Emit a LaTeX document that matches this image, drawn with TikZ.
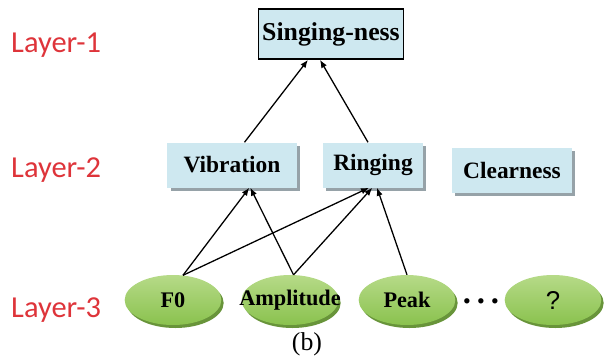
\documentclass[tikz,border=0pt]{standalone}
\usepackage{fontspec}
\setmainfont{Liberation Serif}
\newfontfamily\layerfont{Carlito}
\newfontfamily\qfont{Liberation Sans}
\usetikzlibrary{shapes,shadows,arrows.meta}

\definecolor{layerred}{RGB}{222,52,58}
\definecolor{boxblue}{RGB}{206,232,240}
\definecolor{boxshade}{RGB}{150,162,168}
\definecolor{leafgreen}{RGB}{138,194,78}
\definecolor{leaflight}{RGB}{182,218,136}
\definecolor{leafdark}{RGB}{104,148,58}

\tikzset{
  >={Latex[length=2.4mm,width=1.9mm]},
  layer/.style={text=layerred,font=\layerfont\fontsize{26}{28}\selectfont,anchor=base west,inner sep=0pt},
  topbox/.style={shape=rectangle,draw=black,line width=1.4pt,fill=boxblue,minimum width=4.2cm,minimum height=1.5cm,font=\bfseries\fontsize{22}{24}\selectfont},
  midbox/.style={shape=rectangle,fill=boxblue,minimum height=1.35cm,font=\bfseries\fontsize{20}{22}\selectfont,drop shadow={shadow xshift=0.1cm,shadow yshift=-0.1cm,fill=boxshade,opacity=1}},
  leaf/.style={shape=ellipse,inner sep=0pt,minimum width=2.9cm,minimum height=1.5cm,top color=leaflight,bottom color=leafgreen,drop shadow={shadow xshift=0.07cm,shadow yshift=-0.09cm,fill=leafdark,opacity=1},font=\bfseries\fontsize{19}{21}\selectfont},
  arc/.style={->,draw=black,line width=1.1pt}
}

\begin{document}
\begin{tikzpicture}[x=0.03cm,y=-0.03cm]
\useasboundingbox (0,0) rectangle (604,358);
\node[layer] (l1) at (11,52) {Layer-1};
\node[layer] (l2) at (11,177) {Layer-2};
\node[layer] (l3) at (11,317) {Layer-3};

\node[topbox] (0) at (331,34) {Singing-ness};
\node[midbox,minimum width=3.87cm] (1) at (232,165) {Vibration};
\node[midbox,minimum width=3cm] (2) at (373,165) {Ringing};
\node[midbox,minimum width=3.6cm] (3) at (512,170) {Clearness};

\node[leaf] (4) at (173,300) {\makebox[0pt]{F0}};
\node[leaf] (5) at (290,300) {\makebox[0pt]{Amplitude}};
\node[leaf] (6) at (407,300) {\makebox[0pt]{Peak}};
\node[font=\bfseries\fontsize{28}{30}\selectfont] (7) at (481,301) {.\hspace{5pt}.\hspace{5pt}.};
\node[leaf] (8) at (553,300) {\makebox[0pt]{\qfont\mdseries\fontsize{22}{24}\selectfont ?}};
\node[font=\fontsize{22}{24}\selectfont] (9) at (307,344) {(b)};

\path ([xshift=0.375cm]1.north) edge[arc] ([xshift=-0.69cm]0.south);
\path ([xshift=-0.15cm]2.north) edge[arc] ([xshift=-0.33cm]0.south);
\path (4.68) edge[arc] ([xshift=0.52cm]1.south);
\path (5.82) edge[arc] ([xshift=0.55cm]1.south);
\path (4.68) edge[arc] ([xshift=-0.12cm]2.south);
\path (5.82) edge[arc] ([xshift=-0.02cm]2.south);
\path (6.north) edge[arc] ([xshift=0.12cm]2.south);
\end{tikzpicture}
\end{document}
